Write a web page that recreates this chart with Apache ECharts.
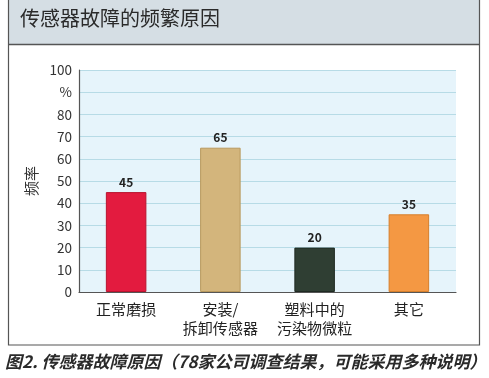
<!DOCTYPE html>
<html><head><meta charset="utf-8">
<script src="https://cdn.jsdelivr.net/npm/echarts@6/dist/echarts.min.js"></script>
<style>html,body{margin:0;padding:0;background:#fff}#c{width:489px;height:378px}</style>
</head><body><div id="c"></div>
<script>
const categories = ['正常磨损', '安装/\n拆卸传感器', '塑料中的\n污染物微粒', '其它'];
const values = [45, 65, 20, 35];
const barColors = ['#e31b3f', '#d3b57c', '#2f3e33', '#f49843'];
const borderColors = ['#b8142f', '#b8995e', '#1f2a22', '#d67f2c'];
const yTickLabels = {0:'0',10:'10',20:'20',30:'30',40:'40',50:'50',60:'60',70:'70',80:'80',90:'%',100:'100'};
const titleText = '传感器故障的频繁原因';
const captionText = '图2. 传感器故障原因（78家公司调查结果，可能采用多种说明）';
const yName = '频率';
const FONT = '"Noto Sans CJK SC", "Noto Sans", sans-serif';

const chart = echarts.init(document.getElementById('c'), null, {renderer:'canvas'});
chart.setOption({
  animation: false,
  backgroundColor: '#fff',
  graphic: [
    {type:'rect', shape:{x:8, y:0, width:472, height:44}, style:{fill:'#d5dee4'}, z:-10},
    {type:'line', shape:{x1:8, y1:44.5, x2:480, y2:44.5}, style:{stroke:'#555', lineWidth:1.5}, z:-9},
    {type:'rect', shape:{x:8.5, y:-2, width:471, height:347}, style:{fill:null, stroke:'#555', lineWidth:1.2}, z:-9},
    {type:'rect', shape:{x:79, y:70, width:377, height:222}, style:{fill:'#e6f4fb'}, z:-5},
    {type:'text', left:20, top:8, style:{text:titleText, font:'20px ' + FONT, fill:'#2a2a2a'}},
    {type:'text', left:5, top:353, style:{text:captionText, font:'italic bold 17px ' + FONT, fill:'#2a2a2a'}}
  ],
  grid: {left:79, right:33, top:70, bottom:86},
  xAxis: {
    type:'category', data: categories,
    axisLine:{show:true, lineStyle:{color:'#555', width:1.2}},
    axisTick:{show:false},
    axisLabel:{interval:0, hideOverlap:false, color:'#222', fontSize:15, fontFamily:FONT, lineHeight:19, margin:8}
  },
  yAxis: {
    type:'value', min:0, max:100, interval:10,
    name: yName, nameLocation:'middle', nameRotate:90, nameGap:40,
    nameTextStyle:{color:'#333', fontSize:15, fontFamily:FONT},
    axisLine:{show:true, lineStyle:{color:'#555', width:1.2}},
    axisTick:{show:false},
    axisLabel:{color:'#333', fontSize:13.5, fontFamily:FONT, margin:7, formatter:v => yTickLabels[v]},
    splitLine:{show:true, lineStyle:{color:'#b7dbe6', width:1}}
  },
  series: [{
    type:'bar', barWidth:'43%',
    data: values.map((v,i)=>({value:v, itemStyle:{color:barColors[i], borderColor:borderColors[i], borderWidth:1}})),
    label:{show:true, position:'top', color:'#222', fontSize:12, fontWeight:'bold', fontFamily:FONT, distance:4}
  }]
});
</script></body></html>
